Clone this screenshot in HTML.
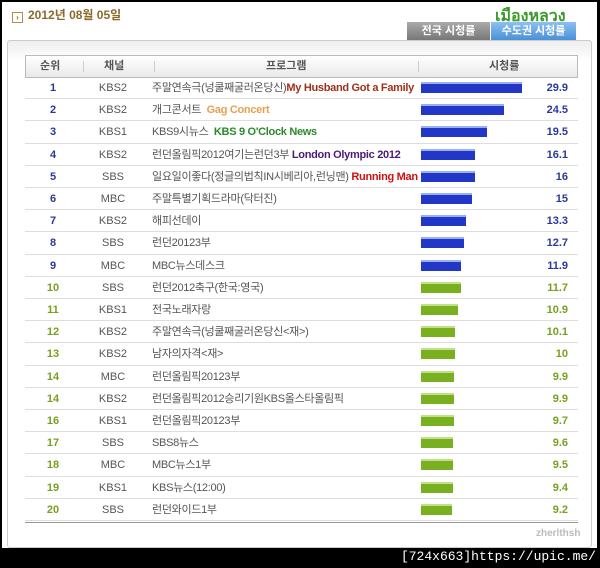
<!DOCTYPE html>
<html><head><meta charset="utf-8"><style>
*{margin:0;padding:0;box-sizing:border-box}
body{width:600px;height:568px;background:#000;position:relative;overflow:hidden;font-family:"Liberation Sans","Noto Sans CJK KR",sans-serif;font-size:11px;color:#555}
#wrap{position:absolute;left:2px;top:2px;width:595px;height:546px;background:#fff}
.abs{position:absolute}
#date{left:10px;top:4px;font-weight:bold;color:#8a6a2a;font-size:12px}
#date span{display:inline-block;width:11px;height:11px;border:1px solid #b09050;margin-right:5px;vertical-align:-1px;font-size:8px;line-height:9px;text-align:center}
#thai{left:493px;top:2px;color:#3a9a2a;font-size:16px;font-weight:bold}
.tab{top:20px;height:18px;color:#fff;font-weight:bold;text-align:center;line-height:18px;font-size:11px}
#box{left:5px;top:38px;width:585px;height:508px;border:1px solid #ccc;border-radius:3px;background:linear-gradient(#eee,#fff 20px)}
#hdr{left:23px;top:53px;width:553px;height:23px;border:1px solid #bbb;background:linear-gradient(#fff,#e9e9e9);font-weight:bold;color:#555}
.row{position:absolute;left:23px;width:553px;height:22.2px;border-bottom:1px solid #ddd}
.c{position:absolute;top:0;line-height:22px}
.bar{position:absolute;top:5px;height:11px;border-top:2px solid #9ab0ee}
.blue{background:#2236c8}.green{background:#78b020;border-top-color:#c2e08a}
</style></head><body><div id="wrap">
<div class="abs" id="date"><span>›</span>2012년 08월 05일</div>
<div class="abs" id="thai">เมืองหลวง</div>
<div class="abs tab" style="left:405px;width:83px;background:linear-gradient(#aaa,#777)">전국 시청률</div>
<div class="abs tab" style="left:489px;width:85px;background:linear-gradient(#8cc0f0,#4a90d8)">수도권 시청률</div>
<div class="abs" id="box"></div>
<div class="abs" id="hdr">
<div class="c" style="left:14px;line-height:21px">순위</div>
<div class="c" style="left:78px;line-height:21px">채널</div>
<div class="c" style="left:240px;line-height:21px">프로그램</div>
<div class="c" style="left:463px;line-height:21px">시청률</div>
<div class="c" style="left:57px;top:5px;height:11px;border-left:1px solid #ccc"></div>
<div class="c" style="left:128px;top:5px;height:11px;border-left:1px solid #ccc"></div>
<div class="c" style="left:392px;top:5px;height:11px;border-left:1px solid #ccc"></div>
</div>
<div id="rows"></div>
<div class="abs" style="left:23px;top:520px;width:553px;border-top:1px solid #999"></div>
<div class="abs" style="left:534px;top:526px;color:#bbb;font-weight:bold;font-size:10px">zherlthsh</div>
</div>
<div class="abs" style="right:4px;top:549px;color:#fff;font-size:13px;font-family:'Liberation Mono',monospace">[724x663]https://upic.me/</div>
<script>
var d=[["1","KBS2","주말연속극(넝쿨째굴러온당신)",'<b style="color:#a0301a">My Husband Got a Family</b>',29.9],
["2","KBS2","개그콘서트",'&nbsp;&nbsp;<b style="color:#e8a050">Gag Concert</b>',24.5],
["3","KBS1","KBS9시뉴스",'&nbsp;&nbsp;<b style="color:#2a8a2a">KBS 9 O\'Clock News</b>',19.5],
["4","KBS2","런던올림픽2012여기는런던3부",'&nbsp;<b style="color:#4a1a7a">London Olympic 2012</b>',16.1],
["5","SBS","일요일이좋다(정글의법칙IN시베리아,런닝맨)",'&nbsp;<b style="color:#d01010">Running Man</b>',16],
["6","MBC","주말특별기획드라마(닥터진)","",15],
["7","KBS2","해피선데이","",13.3],["8","SBS","런던20123부","",12.7],["9","MBC","MBC뉴스데스크","",11.9],
["10","SBS","런던2012축구(한국:영국)","",11.7],["11","KBS1","전국노래자랑","",10.9],["12","KBS2","주말연속극(넝쿨째굴러온당신<재>)","",10.1],
["13","KBS2","남자의자격<재>","",10],["14","MBC","런던올림픽20123부","",9.9],["14","KBS2","런던올림픽2012승리기원KBS올스타올림픽","",9.9],
["16","KBS1","런던올림픽20123부","",9.7],["17","SBS","SBS8뉴스","",9.6],["18","MBC","MBC뉴스1부","",9.5],
["19","KBS1","KBS뉴스(12:00)","",9.4],["20","SBS","런던와이드1부","",9.2]];
var h="";d.forEach(function(r,i){var g=i>=9,col=g?"#78a020":"#2a3a9a";
h+='<div class="row" style="top:'+(75+i*22.2)+'px"><div class="c" style="left:18px;width:20px;text-align:center;font-weight:bold;color:'+col+'">'+r[0]+'</div><div class="c" style="left:68px;width:40px;text-align:center">'+r[1]+'</div><div class="c" style="left:127px;white-space:nowrap;letter-spacing:-0.3px">'+r[2].replace(/</g,"&lt;").replace(/>/g,"&gt;")+r[3]+'</div><div class="bar '+(g?"green":"blue")+'" style="left:396px;width:'+Math.round(r[4]*3.38)+'px"></div><div class="c" style="right:10px;font-weight:bold;color:'+col+'">'+r[4]+'</div></div>';});
document.getElementById("rows").innerHTML=h;
</script>
</body></html>
